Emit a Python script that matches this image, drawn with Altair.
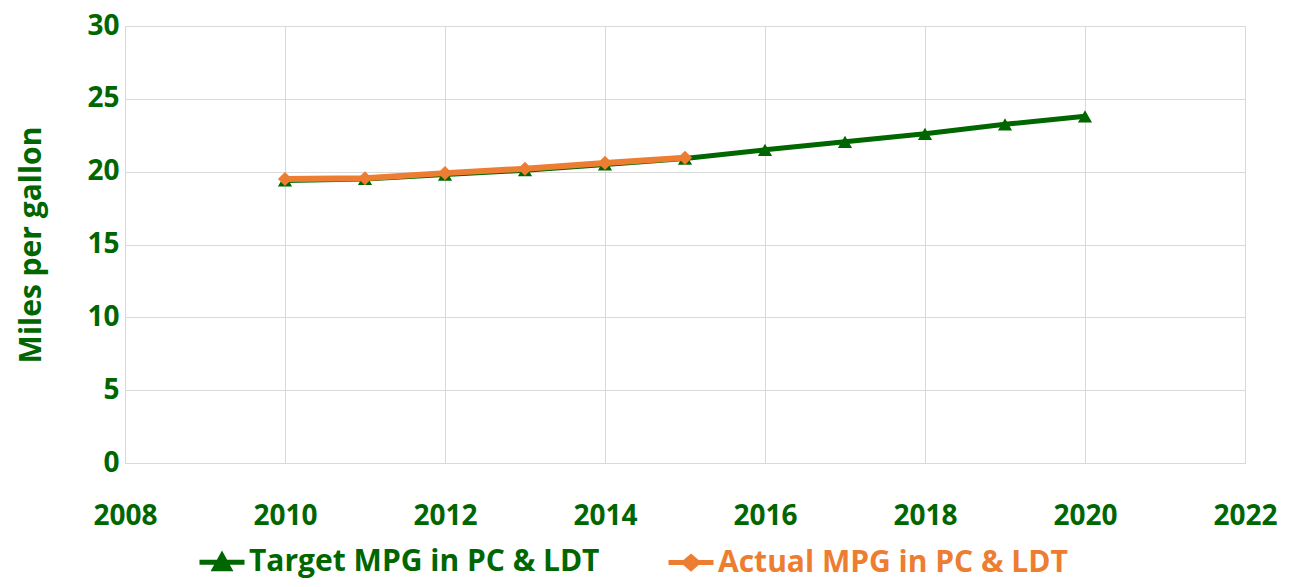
import altair as alt
import pandas as pd

target_years = [2010, 2011, 2012, 2013, 2014, 2015, 2016, 2017, 2018, 2019, 2020]
target_mpg = [19.4, 19.5, 19.8, 20.1, 20.5, 20.9, 21.5, 22.05, 22.6, 23.25, 23.8]
actual_years = [2010, 2011, 2012, 2013, 2014, 2015]
actual_mpg = [19.5, 19.55, 19.9, 20.2, 20.6, 20.95]

series_names = ["Target MPG in PC & LDT", "Actual MPG in PC & LDT"]
GREEN = "#006600"
ORANGE = "#ED7D31"
FONT = "Open Sans"

df = pd.concat([
    pd.DataFrame({"year": target_years, "mpg": target_mpg, "series": series_names[0]}),
    pd.DataFrame({"year": actual_years, "mpg": actual_mpg, "series": series_names[1]}),
])

x = alt.X("year:Q", scale=alt.Scale(domain=[2008, 2022], nice=False, zero=False),
          axis=alt.Axis(values=list(range(2008, 2023, 2)), format="d", title=None,
                        labelFont=FONT, labelFontSize=28, labelFontWeight="bold",
                        labelColor=GREEN, labelPadding=39, ticks=False,
                        domainColor="#d9d9d9", gridColor="#d9d9d9", labelFlush=False))
y = alt.Y("mpg:Q", scale=alt.Scale(domain=[0, 30], nice=False),
          axis=alt.Axis(values=list(range(0, 31, 5)), title="Miles per gallon",
                        titleFont=FONT, titleFontSize=30, titleFontWeight="bold",
                        titleColor=GREEN, titleX=-94, titleAngle=-90, titleBaseline="middle",
                        labelFont=FONT, labelFontSize=28, labelFontWeight="bold",
                        labelColor=GREEN, labelPadding=6, ticks=False,
                        domainColor="#d9d9d9", gridColor="#d9d9d9"))

base = alt.Chart(df)
tgt = base.transform_filter(alt.datum.series == series_names[0])
act = base.transform_filter(alt.datum.series == series_names[1])

t_line = tgt.mark_line(color=GREEN, strokeWidth=5).encode(x=x, y=y)
t_pts = tgt.mark_point(shape="triangle-up", filled=True, color=GREEN, size=200, opacity=1).encode(x=x, y=y)
a_line = act.mark_line(color=ORANGE, strokeWidth=6).encode(x=x, y=y)
a_pts = act.mark_point(shape="diamond", filled=True, color=ORANGE, size=200, opacity=1).encode(x=x, y=y)

tri_path = "M-1,0L1,0M-0.32,0.28L0,-0.3L0.32,0.28Z"
dia_path = "M-1,0L1,0M-0.3,0L0,-0.26L0.3,0L0,0.26Z"

label_color_expr = f"datum.value == '{series_names[0]}' ? '{GREEN}' : '{ORANGE}'"

legend_layer = base.mark_point(filled=True, size=0, strokeWidth=0).encode(
    x=x, y=y,
    shape=alt.Shape("series:N", scale=alt.Scale(domain=series_names, range=[tri_path, dia_path]),
                    legend=alt.Legend(title=None, orient="none", direction="horizontal",
                                      legendX=72, legendY=511,
                                      symbolSize=2025, symbolStrokeWidth=5, symbolOpacity=1,
                                      labelFont=FONT, labelFontSize=30, labelFontWeight="bold",
                                      labelColor={"expr": label_color_expr},
                                      labelOffset=2, columnPadding=58, labelLimit=600)),
    fill=alt.Fill("series:N", scale=alt.Scale(domain=series_names, range=[GREEN, ORANGE]), legend=None),
    stroke=alt.Stroke("series:N", scale=alt.Scale(domain=series_names, range=[GREEN, ORANGE]), legend=None),
)

chart = alt.layer(t_line, t_pts, a_line, a_pts, legend_layer).properties(
    width=1120, height=437,
    autosize=alt.AutoSizeParams(type="none"),
    padding={"left": 117, "top": 18, "right": 45, "bottom": 118},
).configure_view(stroke=None).configure(background="white")

chart.save("out.html", embed_options={"renderer": "svg", "actions": False})
